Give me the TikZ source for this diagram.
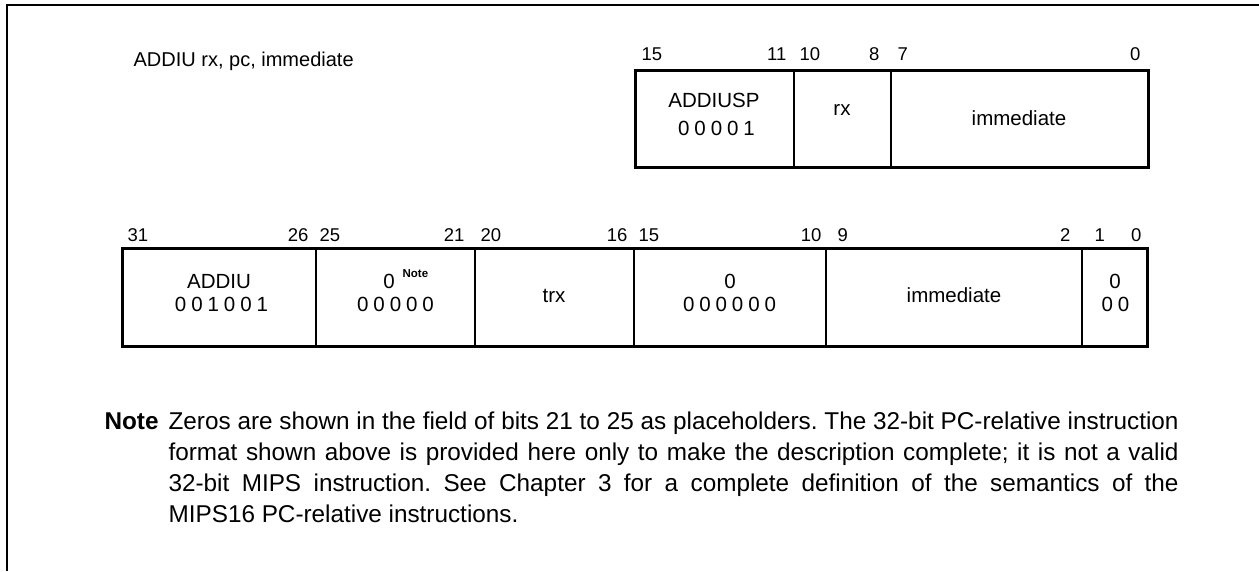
\documentclass[tikz,border=0pt]{standalone}
\usepackage{fontspec}
\setmainfont{Liberation Sans}
\newfontfamily\spacedfont[LetterSpace=24]{Liberation Sans}
\newcommand{\bitfont}{\fontsize{20.5}{24}\selectfont}
\newcommand{\numfont}{\fontsize{18.5}{22}\selectfont}
\newcommand{\notefont}{\fontsize{24.3}{31}\selectfont}

\begin{document}
\begin{tikzpicture}[x=1pt, y=-1pt, line width=1.2pt,
    every node/.style={inner sep=0pt, font=\bitfont},
    hi/.style={anchor=base west, font=\numfont},
    lo/.style={anchor=base east, font=\numfont},
    field/.style={anchor=base},
    digits/.style={anchor=base, xshift=2.5pt, font=\spacedfont\bitfont},
    border/.style={line width=3pt}]
    \useasboundingbox (0,0) rectangle (1259,571);
    \draw[line width=2pt] (1259,5) -- (7,5) -- (7,571);
    \node (title) [anchor=base west, font=\fontsize{20}{24}\selectfont] at (133,66) {ADDIU rx, pc, immediate};

    % 16-bit format
    \draw[border] (635,70) rectangle (1148,167);
    \draw (794,70) -- (794,167);
    \draw (891,70) -- (891,167);
    \node (t15) [hi] at (641,60) {15};
    \node (t11) [lo] at (787,60) {11};
    \node (t10) [hi] at (799,60) {10};
    \node (t8) [lo] at (880,60) {8};
    \node (t7) [hi] at (897,60) {7};
    \node (t0) [lo] at (1141,60) {0};
    \node (opsp) [field] at (714,107) {ADDIUSP};
    \node (opspbits) [digits] at (714,135) {00001};
    \node (rx) [field] at (842,115.3) {rx};
    \node (imm8) [field] at (1019,125.3) {immediate};

    % 32-bit format
    \draw[border] (122,248) rectangle (1147,346);
    \draw (316,248) -- (316,346);
    \draw (475,248) -- (475,346);
    \draw (634,248) -- (634,346);
    \draw (826,248) -- (826,346);
    \draw (1082,248) -- (1082,346);
    \node (b31) [hi] at (127,241) {31};
    \node (b26) [lo] at (309,241) {26};
    \node (b25) [hi] at (319,241) {25};
    \node (b21) [lo] at (465,241) {21};
    \node (b20) [hi] at (480,241) {20};
    \node (b16) [lo] at (628,241) {16};
    \node (b15) [hi] at (638,241) {15};
    \node (b10) [lo] at (822,241) {10};
    \node (b9) [hi] at (837,241) {9};
    \node (b2) [lo] at (1071,241) {2};
    \node (b1) [hi] at (1094,241) {1};
    \node (b0) [lo] at (1142,241) {0};
    \node (op) [field] at (219,288) {ADDIU};
    \node (opbits) [digits] at (219,311) {001001};
    \node (zero) [field] at (389,288) {0};
    \node (zeronote) [anchor=base west, font=\fontsize{11.5}{13}\selectfont\bfseries] at (402,277) {Note};
    \node (zerobits) [digits] at (393,311) {00000};
    \node (trx) [field] at (554,302) {trx};
    \node (pad) [field] at (730,288) {0};
    \node (padbits) [digits] at (727,311) {000000};
    \node (imm) [field] at (954,302.3) {immediate};
    \node (low) [field] at (1115,288) {0};
    \node (lowbits) [digits] at (1113,311) {00};

    % note
    \node (notehead) [anchor=base west, font=\notefont\bfseries] at (104,429) {Note};
    \node (notetext) [anchor=north west, text width=1010pt, align=justify,
        font=\notefont\frenchspacing] at (168,411.5)
        {Zeros are shown in the field of bits 21 to 25 as placeholders. The 32-bit PC-relative instruction\linebreak
         format shown above is provided here only to make the description complete; it is not a valid\linebreak
         32-bit MIPS instruction. See Chapter 3 for a complete definition of the semantics of the\linebreak
         MIPS16 PC-relative instructions.};
\end{tikzpicture}
\end{document}
